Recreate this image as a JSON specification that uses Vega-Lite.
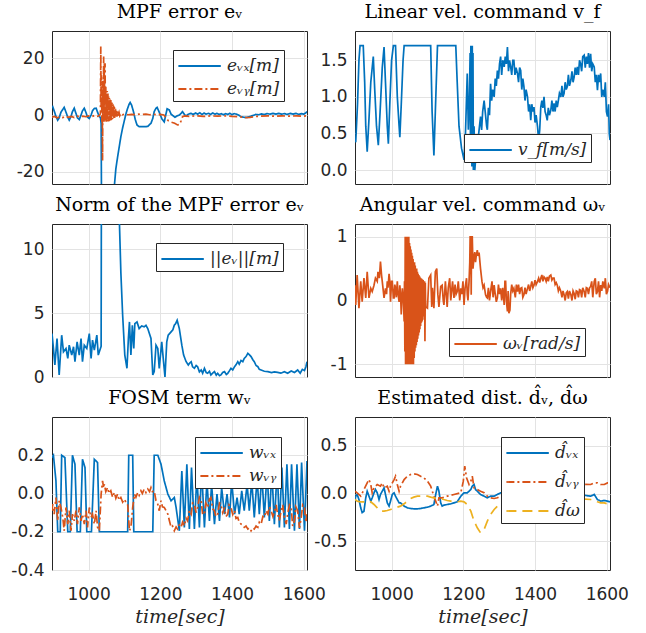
{
"$schema": "https://vega.github.io/schema/vega-lite/v6.json",
"padding": {"left": 10, "top": 2, "right": 5, "bottom": 2},
"background": "white",
"datasets": {
"a1": [{"t":898,"v":2.6},{"t":900,"v":2.9},{"t":904,"v":1.5},{"t":909,"v":-0.5},{"t":914,"v":-1.8},{"t":918,"v":-1.0},{"t":923,"v":1.0},{"t":932,"v":2.7},{"t":937,"v":1.0},{"t":942,"v":-0.8},{"t":946,"v":-1.8},{"t":951,"v":-0.5},{"t":955,"v":1.2},{"t":960,"v":2.4},{"t":965,"v":0.5},{"t":969,"v":-1.0},{"t":974,"v":-1.6},{"t":979,"v":0},{"t":983,"v":1.5},{"t":988,"v":2.4},{"t":993,"v":0.8},{"t":997,"v":-0.8},{"t":1002,"v":-1.2},{"t":1007,"v":0},{"t":1011,"v":1.5},{"t":1016,"v":2.3},{"t":1021,"v":2.4},{"t":1025,"v":1.0},{"t":1030,"v":-0.6},{"t":1033,"v":-0.8},{"t":1035,"v":-3},{"t":1036,"v":-30},{"t":1045,"v":-42},{"t":1055,"v":-45},{"t":1065,"v":-35},{"t":1072,"v":-24.8},{"t":1076,"v":-19},{"t":1081,"v":-14.7},{"t":1086,"v":-10.8},{"t":1090,"v":-7.6},{"t":1095,"v":-4.5},{"t":1100,"v":-1.8},{"t":1105,"v":0.8},{"t":1109,"v":2.4},{"t":1113,"v":3.8},{"t":1116,"v":4.4},{"t":1120,"v":3.5},{"t":1126,"v":0.8},{"t":1130,"v":-1.5},{"t":1135,"v":-3.5},{"t":1141,"v":-4.1},{"t":1150,"v":-4.1},{"t":1160,"v":-4.1},{"t":1165,"v":-4.0},{"t":1174,"v":-2.9},{"t":1179,"v":-1.2},{"t":1183,"v":1.2},{"t":1188,"v":2.4},{"t":1191,"v":2.7},{"t":1197,"v":1.0},{"t":1200,"v":0},{"t":1205,"v":-1.5},{"t":1211,"v":-2.4},{"t":1216,"v":0.5},{"t":1219,"v":2.2},{"t":1225,"v":1.8},{"t":1230,"v":0.3},{"t":1241,"v":-0.8},{"t":1247,"v":-0.3},{"t":1253,"v":0},{"t":1258,"v":0.6},{"t":1262,"v":1.2},{"t":1267,"v":0.2},{"t":1272,"v":-0.35},{"t":1278,"v":0.3},{"t":1286,"v":0.6},{"t":1292,"v":0.2},{"t":1298,"v":0.7},{"t":1304,"v":0.3},{"t":1310,"v":0.8},{"t":1316,"v":0.2},{"t":1322,"v":0.7},{"t":1328,"v":0.3},{"t":1334,"v":0.6},{"t":1340,"v":0.2},{"t":1346,"v":0.7},{"t":1352,"v":0.3},{"t":1358,"v":0.6},{"t":1364,"v":0.2},{"t":1370,"v":0.5},{"t":1376,"v":0.1},{"t":1382,"v":0.5},{"t":1388,"v":0.2},{"t":1394,"v":0.6},{"t":1400,"v":0.1},{"t":1406,"v":0.5},{"t":1412,"v":0.3},{"t":1418,"v":0.0},{"t":1425,"v":-0.6},{"t":1434,"v":-0.8},{"t":1442,"v":-0.8},{"t":1450,"v":-0.5},{"t":1458,"v":-0.2},{"t":1466,"v":0.2},{"t":1474,"v":0.1},{"t":1482,"v":0.4},{"t":1490,"v":0.2},{"t":1498,"v":0.5},{"t":1506,"v":0.3},{"t":1514,"v":0.6},{"t":1522,"v":0.3},{"t":1530,"v":0.6},{"t":1538,"v":0.3},{"t":1546,"v":0.5},{"t":1554,"v":0.2},{"t":1562,"v":0.6},{"t":1570,"v":0.3},{"t":1578,"v":0.6},{"t":1586,"v":0.2},{"t":1594,"v":0.5},{"t":1600,"v":0.3},{"t":1606,"v":0.8},{"t":1609,"v":1.2}],
"a2": [{"t":898,"v":-0.8},{"t":905,"v":-0.5},{"t":912,"v":-1.0},{"t":920,"v":-0.6},{"t":928,"v":-0.9},{"t":936,"v":-0.4},{"t":944,"v":-0.8},{"t":952,"v":-0.5},{"t":960,"v":-0.9},{"t":968,"v":-0.4},{"t":976,"v":-0.7},{"t":984,"v":-0.4},{"t":992,"v":-0.6},{"t":1000,"v":-0.3},{"t":1008,"v":-0.6},{"t":1016,"v":-0.2},{"t":1024,"v":-0.5},{"t":1030,"v":-0.2},{"t":1033,"v":0.5},{"t":1034,"v":24.1},{"t":1035,"v":3},{"t":1036,"v":14},{"t":1037,"v":-2.4},{"t":1038,"v":6},{"t":1039,"v":-16},{"t":1040,"v":12},{"t":1041,"v":-2.4},{"t":1042,"v":20.6},{"t":1043,"v":-2.4},{"t":1044,"v":18.5},{"t":1045,"v":-2.4},{"t":1046,"v":18.2},{"t":1047,"v":-2.4},{"t":1048,"v":10},{"t":1049,"v":-2.4},{"t":1050,"v":7.6},{"t":1051,"v":-2.4},{"t":1052,"v":8.5},{"t":1053,"v":-2.3},{"t":1054,"v":7.6},{"t":1055,"v":-2.3},{"t":1056,"v":6.5},{"t":1057,"v":-2.2},{"t":1058,"v":6},{"t":1059,"v":-2.0},{"t":1060,"v":5.5},{"t":1061,"v":-2.0},{"t":1062,"v":5.3},{"t":1063,"v":-1.8},{"t":1064,"v":4.8},{"t":1065,"v":-1.6},{"t":1066,"v":4.3},{"t":1067,"v":-1.4},{"t":1068,"v":3.8},{"t":1069,"v":-1.2},{"t":1070,"v":3.3},{"t":1071,"v":-1.0},{"t":1072,"v":2.8},{"t":1073,"v":-0.9},{"t":1075,"v":2.2},{"t":1076,"v":-0.8},{"t":1078,"v":1.6},{"t":1079,"v":-0.6},{"t":1081,"v":1.2},{"t":1082,"v":-0.4},{"t":1085,"v":0.9},{"t":1087,"v":-0.2},{"t":1090,"v":0.6},{"t":1094,"v":0.1},{"t":1100,"v":0.3},{"t":1110,"v":0.1},{"t":1120,"v":0.2},{"t":1130,"v":0.1},{"t":1140,"v":0.3},{"t":1150,"v":0.2},{"t":1160,"v":0.3},{"t":1170,"v":0.1},{"t":1180,"v":0.3},{"t":1190,"v":0.1},{"t":1200,"v":0.2},{"t":1210,"v":0.0},{"t":1216,"v":-1.0},{"t":1222,"v":-2.0},{"t":1230,"v":-2.5},{"t":1240,"v":-2.9},{"t":1248,"v":-3.5},{"t":1254,"v":-3.3},{"t":1258,"v":-2.0},{"t":1262,"v":-0.6},{"t":1268,"v":-0.3},{"t":1280,"v":-0.5},{"t":1300,"v":-0.3},{"t":1320,"v":-0.5},{"t":1340,"v":-0.3},{"t":1360,"v":-0.4},{"t":1380,"v":-0.3},{"t":1400,"v":-0.5},{"t":1420,"v":-0.6},{"t":1435,"v":-0.9},{"t":1450,"v":-0.8},{"t":1465,"v":-0.5},{"t":1480,"v":-0.4},{"t":1500,"v":-0.3},{"t":1520,"v":-0.4},{"t":1540,"v":-0.3},{"t":1560,"v":-0.4},{"t":1580,"v":-0.3},{"t":1600,"v":-0.4},{"t":1609,"v":-0.3}],
"b1": [{"t":898,"v":0.41},{"t":900,"v":0.38},{"t":905,"v":0.9},{"t":909,"v":1.5},{"t":912,"v":1.7},{"t":921,"v":1.7},{"t":925,"v":1.2},{"t":928,"v":0.6},{"t":932,"v":0.25},{"t":937,"v":0.7},{"t":942,"v":1.2},{"t":949,"v":1.55},{"t":953,"v":1.1},{"t":958,"v":0.6},{"t":963,"v":0.34},{"t":968,"v":0.8},{"t":974,"v":1.4},{"t":979,"v":1.68},{"t":983,"v":1.2},{"t":988,"v":0.6},{"t":991,"v":0.36},{"t":995,"v":0.9},{"t":1000,"v":1.5},{"t":1005,"v":1.7},{"t":1011,"v":1.7},{"t":1016,"v":1.0},{"t":1021,"v":0.6},{"t":1023,"v":0.45},{"t":1027,"v":0.9},{"t":1032,"v":1.5},{"t":1035,"v":1.7},{"t":1109,"v":1.7},{"t":1113,"v":0.8},{"t":1118,"v":0.2},{"t":1122,"v":0.8},{"t":1128,"v":1.7},{"t":1179,"v":1.7},{"t":1183,"v":1.2},{"t":1188,"v":0.6},{"t":1195,"v":0.3},{"t":1202,"v":0.14},{"t":1206,"v":0.5},{"t":1211,"v":1.32},{"t":1214,"v":0.55},{"t":1217,"v":1.0},{"t":1219,"v":1.6},{"t":1220,"v":0.3},{"t":1221,"v":1.7},{"t":1222,"v":0.1},{"t":1223,"v":1.7},{"t":1224,"v":0.05},{"t":1225,"v":1.7},{"t":1226,"v":0.1},{"t":1227,"v":1.6},{"t":1228,"v":0.0},{"t":1230,"v":0.6},{"t":1232,"v":0.0},{"t":1236,"v":0.25},{"t":1239,"v":0.32},{"t":1244,"v":0.55},{"t":1248,"v":0.73},{"t":1251,"v":0.55},{"t":1254,"v":0.8},{"t":1258,"v":0.95},{"t":1262,"v":0.75},{"t":1265,"v":0.6},{"t":1267,"v":0.55},{"t":1270,"v":0.85},{"t":1273,"v":0.75},{"t":1276,"v":1.18},{"t":1279,"v":0.95},{"t":1282,"v":1.1},{"t":1286,"v":1.0},{"t":1289,"v":1.25},{"t":1292,"v":1.15},{"t":1295,"v":1.36},{"t":1298,"v":1.25},{"t":1301,"v":1.45},{"t":1304,"v":1.55},{"t":1307,"v":1.3},{"t":1310,"v":1.5},{"t":1314,"v":1.41},{"t":1317,"v":1.55},{"t":1320,"v":1.45},{"t":1323,"v":1.68},{"t":1326,"v":1.35},{"t":1329,"v":1.5},{"t":1332,"v":1.41},{"t":1335,"v":1.3},{"t":1338,"v":1.5},{"t":1341,"v":1.5},{"t":1344,"v":1.3},{"t":1347,"v":1.4},{"t":1351,"v":1.32},{"t":1354,"v":1.2},{"t":1357,"v":1.4},{"t":1360,"v":1.36},{"t":1363,"v":1.1},{"t":1366,"v":1.25},{"t":1369,"v":1.14},{"t":1372,"v":0.95},{"t":1375,"v":1.1},{"t":1379,"v":1.0},{"t":1382,"v":0.8},{"t":1385,"v":0.9},{"t":1388,"v":0.68},{"t":1391,"v":0.9},{"t":1394,"v":0.8},{"t":1397,"v":0.86},{"t":1400,"v":0.65},{"t":1403,"v":0.75},{"t":1407,"v":0.59},{"t":1410,"v":0.4},{"t":1413,"v":0.55},{"t":1416,"v":0.86},{"t":1419,"v":0.95},{"t":1422,"v":0.85},{"t":1425,"v":1.0},{"t":1428,"v":0.8},{"t":1431,"v":0.75},{"t":1434,"v":0.68},{"t":1437,"v":0.85},{"t":1440,"v":0.75},{"t":1444,"v":0.82},{"t":1447,"v":0.95},{"t":1450,"v":0.8},{"t":1453,"v":0.91},{"t":1456,"v":0.8},{"t":1459,"v":0.95},{"t":1462,"v":0.86},{"t":1465,"v":0.95},{"t":1468,"v":1.05},{"t":1472,"v":1.0},{"t":1475,"v":1.15},{"t":1478,"v":1.0},{"t":1481,"v":1.05},{"t":1484,"v":1.2},{"t":1487,"v":1.1},{"t":1490,"v":1.14},{"t":1493,"v":1.3},{"t":1496,"v":1.15},{"t":1500,"v":1.23},{"t":1503,"v":1.35},{"t":1506,"v":1.2},{"t":1509,"v":1.27},{"t":1512,"v":1.4},{"t":1515,"v":1.3},{"t":1518,"v":1.41},{"t":1521,"v":1.3},{"t":1524,"v":1.5},{"t":1527,"v":1.45},{"t":1530,"v":1.35},{"t":1533,"v":1.55},{"t":1537,"v":1.57},{"t":1540,"v":1.4},{"t":1543,"v":1.55},{"t":1546,"v":1.45},{"t":1549,"v":1.6},{"t":1552,"v":1.4},{"t":1555,"v":1.59},{"t":1558,"v":1.35},{"t":1561,"v":1.45},{"t":1565,"v":1.41},{"t":1568,"v":1.2},{"t":1571,"v":1.3},{"t":1574,"v":1.09},{"t":1577,"v":1.3},{"t":1580,"v":1.2},{"t":1583,"v":1.32},{"t":1586,"v":1.0},{"t":1589,"v":1.1},{"t":1593,"v":1.0},{"t":1596,"v":1.2},{"t":1599,"v":0.8},{"t":1602,"v":0.73},{"t":1605,"v":0.9},{"t":1607,"v":0.5},{"t":1609,"v":0.41}],
"c1": [{"t":898,"v":3.41},{"t":902,"v":2.24},{"t":906,"v":0.94},{"t":912,"v":3.02},{"t":918,"v":0.16},{"t":925,"v":3.28},{"t":930,"v":1.98},{"t":937,"v":2.24},{"t":942,"v":1.46},{"t":946,"v":2.5},{"t":953,"v":1.72},{"t":958,"v":2.37},{"t":962,"v":1.2},{"t":968,"v":2.76},{"t":974,"v":1.72},{"t":979,"v":3.02},{"t":983,"v":1.2},{"t":988,"v":2.5},{"t":995,"v":2.24},{"t":1002,"v":3.41},{"t":1007,"v":1.46},{"t":1011,"v":2.89},{"t":1016,"v":2.11},{"t":1023,"v":3.28},{"t":1027,"v":1.72},{"t":1033,"v":2.24},{"t":1035,"v":2.4},{"t":1036,"v":20},{"t":1050,"v":40},{"t":1070,"v":25},{"t":1080,"v":16},{"t":1086,"v":12.1},{"t":1090,"v":8.2},{"t":1095,"v":4.84},{"t":1101,"v":1.72},{"t":1107,"v":0.68},{"t":1111,"v":3.02},{"t":1114,"v":4.32},{"t":1118,"v":1.72},{"t":1122,"v":4.06},{"t":1126,"v":2.24},{"t":1129,"v":4.19},{"t":1135,"v":4.32},{"t":1141,"v":3.8},{"t":1148,"v":4.0},{"t":1155,"v":3.93},{"t":1160,"v":4.05},{"t":1165,"v":3.8},{"t":1174,"v":3.02},{"t":1179,"v":0.16},{"t":1183,"v":0.42},{"t":1188,"v":2.5},{"t":1193,"v":2.24},{"t":1197,"v":0.68},{"t":1204,"v":2.76},{"t":1209,"v":1.2},{"t":1213,"v":0},{"t":1218,"v":2.76},{"t":1222,"v":3.28},{"t":1230,"v":3.54},{"t":1235,"v":3.7},{"t":1239,"v":4.06},{"t":1243,"v":4.2},{"t":1247,"v":4.45},{"t":1253,"v":3.8},{"t":1260,"v":2.5},{"t":1265,"v":1.72},{"t":1272,"v":1.2},{"t":1278,"v":0.94},{"t":1282,"v":1.1},{"t":1286,"v":1.2},{"t":1290,"v":0.8},{"t":1295,"v":0.68},{"t":1300,"v":0.9},{"t":1304,"v":0.81},{"t":1309,"v":0.4},{"t":1314,"v":0.55},{"t":1318,"v":0.3},{"t":1323,"v":0.68},{"t":1328,"v":0.35},{"t":1332,"v":0.29},{"t":1337,"v":0.45},{"t":1341,"v":0.16},{"t":1346,"v":0.3},{"t":1351,"v":0.42},{"t":1356,"v":0.15},{"t":1360,"v":0.29},{"t":1365,"v":0.1},{"t":1369,"v":0.16},{"t":1374,"v":0.35},{"t":1379,"v":0.42},{"t":1384,"v":0.2},{"t":1388,"v":0.29},{"t":1393,"v":0.5},{"t":1397,"v":0.68},{"t":1402,"v":0.55},{"t":1407,"v":0.81},{"t":1411,"v":0.95},{"t":1416,"v":1.2},{"t":1420,"v":1.0},{"t":1425,"v":1.3},{"t":1430,"v":1.2},{"t":1434,"v":1.46},{"t":1439,"v":1.6},{"t":1444,"v":1.85},{"t":1448,"v":1.75},{"t":1453,"v":1.6},{"t":1458,"v":1.35},{"t":1462,"v":1.2},{"t":1467,"v":0.9},{"t":1472,"v":0.81},{"t":1476,"v":0.6},{"t":1481,"v":0.55},{"t":1490,"v":0.45},{"t":1500,"v":0.42},{"t":1510,"v":0.35},{"t":1518,"v":0.4},{"t":1527,"v":0.36},{"t":1536,"v":0.3},{"t":1546,"v":0.42},{"t":1555,"v":0.3},{"t":1565,"v":0.47},{"t":1574,"v":0.35},{"t":1583,"v":0.55},{"t":1590,"v":0.3},{"t":1596,"v":0.6},{"t":1602,"v":0.5},{"t":1606,"v":0.8},{"t":1609,"v":1.2}],
"d1": [{"t":898,"v":0.24},{"t":900,"v":-0.07},{"t":904,"v":0.4},{"t":909,"v":-0.12},{"t":914,"v":0.3},{"t":918,"v":-0.02},{"t":923,"v":0.35},{"t":928,"v":0.04},{"t":932,"v":0.45},{"t":937,"v":0.04},{"t":942,"v":0.19},{"t":946,"v":0.14},{"t":951,"v":0.24},{"t":955,"v":0.35},{"t":960,"v":0.3},{"t":962,"v":0.45},{"t":966,"v":0.35},{"t":969,"v":0.61},{"t":972,"v":0.4},{"t":974,"v":0.3},{"t":979,"v":0.04},{"t":983,"v":0.19},{"t":986,"v":0.1},{"t":988,"v":0.3},{"t":990,"v":0.2},{"t":993,"v":0.42},{"t":995,"v":0.3},{"t":997,"v":-0.02},{"t":1000,"v":0.3},{"t":1002,"v":0.3},{"t":1005,"v":0.04},{"t":1007,"v":0.04},{"t":1009,"v":0.25},{"t":1011,"v":0.19},{"t":1013,"v":0.05},{"t":1016,"v":0.3},{"t":1018,"v":0.1},{"t":1021,"v":-0.02},{"t":1023,"v":0.24},{"t":1025,"v":0.1},{"t":1027,"v":-0.22},{"t":1030,"v":0.19},{"t":1033,"v":0.0},{"t":1035,"v":-0.33},{"t":1036,"v":0.3},{"t":1037,"v":-0.8},{"t":1038,"v":1.0},{"t":1039,"v":-1.0},{"t":1040,"v":1.0},{"t":1041,"v":-1.0},{"t":1042,"v":1.0},{"t":1043,"v":-1.0},{"t":1044,"v":1.0},{"t":1045,"v":-1.0},{"t":1046,"v":1.0},{"t":1047,"v":-1.0},{"t":1048,"v":1.0},{"t":1049,"v":-1.0},{"t":1050,"v":0.9},{"t":1051,"v":-1.0},{"t":1052,"v":0.85},{"t":1053,"v":-1.0},{"t":1054,"v":0.8},{"t":1055,"v":-1.0},{"t":1056,"v":0.75},{"t":1057,"v":-1.0},{"t":1058,"v":0.7},{"t":1059,"v":-1.0},{"t":1060,"v":0.65},{"t":1061,"v":-1.0},{"t":1062,"v":0.6},{"t":1063,"v":-0.9},{"t":1064,"v":0.6},{"t":1065,"v":-0.8},{"t":1066,"v":0.55},{"t":1067,"v":-0.74},{"t":1068,"v":0.5},{"t":1069,"v":-0.7},{"t":1070,"v":0.5},{"t":1071,"v":-0.65},{"t":1072,"v":0.45},{"t":1073,"v":-0.6},{"t":1074,"v":0.42},{"t":1075,"v":-0.55},{"t":1076,"v":0.4},{"t":1077,"v":-0.5},{"t":1078,"v":0.38},{"t":1079,"v":-0.45},{"t":1080,"v":0.36},{"t":1081,"v":-0.4},{"t":1082,"v":0.35},{"t":1083,"v":-0.35},{"t":1084,"v":0.34},{"t":1085,"v":-0.33},{"t":1086,"v":0.33},{"t":1087,"v":-0.3},{"t":1088,"v":0.32},{"t":1089,"v":-0.25},{"t":1090,"v":0.3},{"t":1091,"v":-0.2},{"t":1092,"v":0.3},{"t":1093,"v":-0.64},{"t":1094,"v":0.28},{"t":1095,"v":-0.1},{"t":1100,"v":-0.12},{"t":1104,"v":0.35},{"t":1109,"v":0.4},{"t":1112,"v":-0.1},{"t":1114,"v":0.2},{"t":1118,"v":-0.12},{"t":1122,"v":0.45},{"t":1126,"v":0.5},{"t":1129,"v":0.1},{"t":1132,"v":-0.1},{"t":1137,"v":0.22},{"t":1141,"v":0.24},{"t":1144,"v":0.0},{"t":1146,"v":-0.07},{"t":1150,"v":0.3},{"t":1155,"v":-0.1},{"t":1158,"v":0.2},{"t":1162,"v":0.35},{"t":1165,"v":0.0},{"t":1170,"v":0.3},{"t":1174,"v":0.04},{"t":1177,"v":0.25},{"t":1180,"v":0.1},{"t":1183,"v":0.14},{"t":1186,"v":0.3},{"t":1190,"v":0.0},{"t":1193,"v":0.19},{"t":1196,"v":0.1},{"t":1199,"v":0.3},{"t":1202,"v":-0.07},{"t":1205,"v":0.2},{"t":1209,"v":0.35},{"t":1211,"v":0.1},{"t":1213,"v":0.0},{"t":1216,"v":0.3},{"t":1218,"v":0.6},{"t":1219,"v":1.0},{"t":1221,"v":1.0},{"t":1222,"v":0.09},{"t":1223,"v":1.0},{"t":1225,"v":1.0},{"t":1227,"v":0.5},{"t":1230,"v":0.7},{"t":1232,"v":0.76},{"t":1234,"v":0.6},{"t":1236,"v":0.7},{"t":1239,"v":0.79},{"t":1241,"v":0.7},{"t":1244,"v":0.75},{"t":1248,"v":0.5},{"t":1252,"v":0.3},{"t":1255,"v":0.2},{"t":1258,"v":0.24},{"t":1262,"v":0.09},{"t":1265,"v":0.05},{"t":1267,"v":0.04},{"t":1270,"v":0.2},{"t":1273,"v":0.0},{"t":1276,"v":0.14},{"t":1280,"v":0.3},{"t":1283,"v":0.05},{"t":1286,"v":0.24},{"t":1289,"v":0.1},{"t":1292,"v":-0.02},{"t":1295,"v":0.04},{"t":1298,"v":0.25},{"t":1301,"v":0.1},{"t":1304,"v":0.19},{"t":1307,"v":0.0},{"t":1310,"v":0.2},{"t":1314,"v":-0.07},{"t":1316,"v":0.3},{"t":1318,"v":0.3},{"t":1320,"v":0.0},{"t":1323,"v":-0.17},{"t":1325,"v":0.15},{"t":1327,"v":-0.2},{"t":1330,"v":-0.15},{"t":1332,"v":0.1},{"t":1335,"v":0.25},{"t":1338,"v":0.15},{"t":1341,"v":0.19},{"t":1345,"v":0.05},{"t":1348,"v":0.25},{"t":1351,"v":0.14},{"t":1354,"v":0.25},{"t":1357,"v":0.1},{"t":1360,"v":0.19},{"t":1363,"v":0.2},{"t":1366,"v":0.05},{"t":1369,"v":0.09},{"t":1372,"v":0.2},{"t":1375,"v":0.1},{"t":1379,"v":0.19},{"t":1382,"v":0.25},{"t":1385,"v":0.15},{"t":1388,"v":0.22},{"t":1391,"v":0.3},{"t":1394,"v":0.2},{"t":1397,"v":0.24},{"t":1400,"v":0.32},{"t":1403,"v":0.25},{"t":1407,"v":0.3},{"t":1410,"v":0.35},{"t":1413,"v":0.28},{"t":1416,"v":0.35},{"t":1419,"v":0.4},{"t":1422,"v":0.3},{"t":1425,"v":0.37},{"t":1428,"v":0.35},{"t":1431,"v":0.3},{"t":1434,"v":0.37},{"t":1437,"v":0.3},{"t":1440,"v":0.38},{"t":1444,"v":0.4},{"t":1447,"v":0.32},{"t":1450,"v":0.35},{"t":1453,"v":0.35},{"t":1456,"v":0.25},{"t":1459,"v":0.28},{"t":1462,"v":0.24},{"t":1465,"v":0.15},{"t":1468,"v":0.2},{"t":1472,"v":0.14},{"t":1475,"v":0.05},{"t":1478,"v":0.15},{"t":1481,"v":0.09},{"t":1484,"v":0.0},{"t":1487,"v":0.12},{"t":1490,"v":0.14},{"t":1493,"v":0.03},{"t":1496,"v":0.15},{"t":1500,"v":0.09},{"t":1503,"v":0.0},{"t":1506,"v":0.15},{"t":1509,"v":0.11},{"t":1512,"v":0.02},{"t":1515,"v":0.15},{"t":1518,"v":0.14},{"t":1521,"v":0.05},{"t":1524,"v":0.17},{"t":1527,"v":0.16},{"t":1530,"v":0.05},{"t":1533,"v":0.2},{"t":1537,"v":0.14},{"t":1540,"v":0.05},{"t":1543,"v":0.2},{"t":1546,"v":0.19},{"t":1549,"v":0.1},{"t":1552,"v":0.2},{"t":1555,"v":0.22},{"t":1558,"v":0.3},{"t":1561,"v":0.05},{"t":1565,"v":0.3},{"t":1568,"v":0.35},{"t":1571,"v":0.1},{"t":1574,"v":0.14},{"t":1577,"v":0.3},{"t":1580,"v":0.05},{"t":1583,"v":0.24},{"t":1586,"v":0.15},{"t":1589,"v":0.3},{"t":1593,"v":0.19},{"t":1596,"v":0.35},{"t":1599,"v":0.1},{"t":1602,"v":0.14},{"t":1605,"v":0.25},{"t":1609,"v":0.2}],
"e1": [{"t":898,"v":0.188},{"t":902,"v":0.2},{"t":909,"v":0.066},{"t":914,"v":-0.2},{"t":921,"v":-0.2},{"t":925,"v":0.2},{"t":934,"v":0.188},{"t":942,"v":-0.2},{"t":949,"v":-0.2},{"t":955,"v":0.2},{"t":962,"v":0.153},{"t":968,"v":-0.2},{"t":977,"v":-0.2},{"t":983,"v":0.179},{"t":990,"v":0.136},{"t":995,"v":-0.2},{"t":1008,"v":-0.2},{"t":1016,"v":0.179},{"t":1025,"v":0.162},{"t":1030,"v":-0.2},{"t":1109,"v":-0.2},{"t":1112,"v":0.2},{"t":1123,"v":0.2},{"t":1126,"v":-0.2},{"t":1179,"v":-0.2},{"t":1183,"v":0.2},{"t":1193,"v":0.2},{"t":1202,"v":0.153},{"t":1211,"v":0.066},{"t":1221,"v":-0.003},{"t":1230,"v":-0.038},{"t":1239,"v":-0.021},{"t":1244,"v":-0.073},{"t":1253,"v":-0.195},{"t":1260,"v":0.118},{"t":1267,"v":-0.177},{"t":1274,"v":0.153},{"t":1281,"v":-0.186},{"t":1287,"v":0.136},{"t":1295,"v":-0.186},{"t":1302,"v":0.101},{"t":1309,"v":-0.177},{"t":1315,"v":0.136},{"t":1323,"v":-0.177},{"t":1330,"v":0.066},{"t":1337,"v":-0.143},{"t":1343,"v":0.049},{"t":1351,"v":-0.16},{"t":1358,"v":-0.003},{"t":1365,"v":-0.143},{"t":1371,"v":0.031},{"t":1379,"v":-0.108},{"t":1386,"v":-0.003},{"t":1393,"v":-0.125},{"t":1399,"v":0.066},{"t":1407,"v":-0.108},{"t":1414,"v":-0.021},{"t":1420,"v":-0.108},{"t":1427,"v":0.014},{"t":1434,"v":-0.09},{"t":1442,"v":0.049},{"t":1448,"v":-0.09},{"t":1455,"v":0.066},{"t":1462,"v":-0.125},{"t":1470,"v":0.083},{"t":1476,"v":-0.108},{"t":1483,"v":0.101},{"t":1490,"v":-0.125},{"t":1498,"v":0.118},{"t":1504,"v":-0.143},{"t":1511,"v":0.118},{"t":1518,"v":-0.16},{"t":1526,"v":0.136},{"t":1532,"v":-0.177},{"t":1539,"v":0.136},{"t":1546,"v":-0.177},{"t":1553,"v":0.153},{"t":1560,"v":-0.186},{"t":1566,"v":0.153},{"t":1574,"v":-0.195},{"t":1581,"v":0.153},{"t":1588,"v":-0.186},{"t":1594,"v":0.162},{"t":1602,"v":-0.195},{"t":1609,"v":0.17}],
"e2": [{"t":898,"v":-0.09},{"t":900,"v":-0.056},{"t":904,"v":-0.108},{"t":909,"v":-0.021},{"t":914,"v":-0.143},{"t":918,"v":-0.038},{"t":923,"v":-0.073},{"t":928,"v":-0.125},{"t":932,"v":-0.195},{"t":937,"v":-0.073},{"t":942,"v":-0.16},{"t":946,"v":-0.09},{"t":951,"v":-0.195},{"t":955,"v":-0.108},{"t":960,"v":-0.143},{"t":965,"v":-0.09},{"t":969,"v":-0.16},{"t":974,"v":-0.073},{"t":979,"v":-0.143},{"t":983,"v":-0.108},{"t":988,"v":-0.16},{"t":993,"v":-0.09},{"t":997,"v":-0.177},{"t":1002,"v":-0.073},{"t":1007,"v":-0.125},{"t":1011,"v":-0.108},{"t":1016,"v":-0.16},{"t":1021,"v":-0.09},{"t":1025,"v":-0.177},{"t":1030,"v":-0.195},{"t":1035,"v":-0.003},{"t":1039,"v":0.066},{"t":1042,"v":0.03},{"t":1044,"v":0.049},{"t":1048,"v":0.01},{"t":1053,"v":0.031},{"t":1057,"v":0.0},{"t":1062,"v":0.014},{"t":1067,"v":-0.02},{"t":1072,"v":0.005},{"t":1076,"v":-0.025},{"t":1081,"v":-0.003},{"t":1085,"v":-0.035},{"t":1090,"v":-0.021},{"t":1095,"v":-0.045},{"t":1100,"v":-0.03},{"t":1105,"v":-0.05},{"t":1109,"v":-0.056},{"t":1114,"v":-0.195},{"t":1118,"v":-0.177},{"t":1123,"v":-0.073},{"t":1128,"v":-0.003},{"t":1132,"v":-0.02},{"t":1137,"v":0.005},{"t":1141,"v":-0.01},{"t":1146,"v":0.014},{"t":1150,"v":0.0},{"t":1155,"v":0.023},{"t":1160,"v":0.005},{"t":1165,"v":0.023},{"t":1170,"v":0.01},{"t":1174,"v":0.031},{"t":1178,"v":0.01},{"t":1183,"v":0.014},{"t":1188,"v":-0.038},{"t":1193,"v":-0.056},{"t":1197,"v":-0.09},{"t":1202,"v":-0.038},{"t":1206,"v":-0.07},{"t":1211,"v":-0.073},{"t":1216,"v":-0.09},{"t":1221,"v":-0.108},{"t":1225,"v":-0.14},{"t":1230,"v":-0.177},{"t":1234,"v":-0.17},{"t":1239,"v":-0.195},{"t":1244,"v":-0.175},{"t":1248,"v":-0.186},{"t":1253,"v":-0.165},{"t":1258,"v":-0.177},{"t":1262,"v":-0.15},{"t":1267,"v":-0.169},{"t":1272,"v":-0.13},{"t":1276,"v":-0.143},{"t":1281,"v":-0.09},{"t":1286,"v":-0.108},{"t":1290,"v":-0.05},{"t":1295,"v":-0.056},{"t":1300,"v":-0.1},{"t":1304,"v":-0.073},{"t":1309,"v":-0.02},{"t":1314,"v":-0.038},{"t":1318,"v":-0.11},{"t":1323,"v":-0.108},{"t":1327,"v":-0.05},{"t":1332,"v":-0.073},{"t":1337,"v":-0.03},{"t":1341,"v":-0.021},{"t":1346,"v":-0.08},{"t":1351,"v":-0.09},{"t":1355,"v":-0.12},{"t":1360,"v":-0.108},{"t":1365,"v":-0.05},{"t":1369,"v":-0.056},{"t":1374,"v":-0.1},{"t":1379,"v":-0.073},{"t":1383,"v":-0.12},{"t":1388,"v":-0.108},{"t":1392,"v":-0.06},{"t":1397,"v":-0.073},{"t":1402,"v":-0.11},{"t":1407,"v":-0.09},{"t":1411,"v":-0.13},{"t":1416,"v":-0.125},{"t":1420,"v":-0.15},{"t":1425,"v":-0.16},{"t":1430,"v":-0.165},{"t":1434,"v":-0.177},{"t":1439,"v":-0.17},{"t":1444,"v":-0.186},{"t":1448,"v":-0.18},{"t":1453,"v":-0.195},{"t":1458,"v":-0.18},{"t":1462,"v":-0.186},{"t":1467,"v":-0.17},{"t":1472,"v":-0.177},{"t":1476,"v":-0.15},{"t":1481,"v":-0.16},{"t":1486,"v":-0.12},{"t":1490,"v":-0.125},{"t":1495,"v":-0.09},{"t":1500,"v":-0.108},{"t":1504,"v":-0.07},{"t":1509,"v":-0.09},{"t":1514,"v":-0.12},{"t":1518,"v":-0.099},{"t":1523,"v":-0.06},{"t":1527,"v":-0.108},{"t":1532,"v":-0.14},{"t":1537,"v":-0.09},{"t":1541,"v":-0.06},{"t":1546,"v":-0.125},{"t":1551,"v":-0.16},{"t":1555,"v":-0.108},{"t":1560,"v":-0.06},{"t":1565,"v":-0.073},{"t":1569,"v":-0.17},{"t":1574,"v":-0.143},{"t":1578,"v":-0.07},{"t":1583,"v":-0.09},{"t":1588,"v":-0.18},{"t":1593,"v":-0.125},{"t":1597,"v":-0.06},{"t":1602,"v":-0.073},{"t":1606,"v":-0.15},{"t":1609,"v":-0.108}],
"f1": [{"t":898,"v":-0.08},{"t":900,"v":-0.028},{"t":904,"v":-0.01},{"t":909,"v":-0.063},{"t":914,"v":-0.15},{"t":918,"v":-0.2},{"t":923,"v":-0.185},{"t":928,"v":-0.045},{"t":932,"v":0.024},{"t":937,"v":-0.028},{"t":942,"v":-0.08},{"t":946,"v":-0.045},{"t":951,"v":0.007},{"t":955,"v":0.042},{"t":960,"v":0.007},{"t":965,"v":-0.063},{"t":969,"v":-0.01},{"t":974,"v":0.024},{"t":979,"v":0.059},{"t":983,"v":-0.01},{"t":988,"v":-0.098},{"t":993,"v":-0.132},{"t":997,"v":-0.08},{"t":1002,"v":-0.01},{"t":1007,"v":0.007},{"t":1011,"v":-0.028},{"t":1016,"v":-0.063},{"t":1021,"v":-0.098},{"t":1025,"v":-0.098},{"t":1030,"v":-0.115},{"t":1035,"v":-0.132},{"t":1044,"v":-0.15},{"t":1053,"v":-0.157},{"t":1062,"v":-0.16},{"t":1072,"v":-0.16},{"t":1081,"v":-0.157},{"t":1090,"v":-0.15},{"t":1100,"v":-0.143},{"t":1109,"v":-0.132},{"t":1118,"v":-0.115},{"t":1123,"v":-0.01},{"t":1128,"v":0.077},{"t":1132,"v":0.024},{"t":1137,"v":-0.098},{"t":1141,"v":-0.132},{"t":1146,"v":-0.122},{"t":1155,"v":-0.115},{"t":1165,"v":-0.108},{"t":1174,"v":-0.098},{"t":1183,"v":-0.087},{"t":1193,"v":-0.028},{"t":1202,"v":0.007},{"t":1211,"v":0.007},{"t":1221,"v":0.042},{"t":1225,"v":0.077},{"t":1230,"v":0.094},{"t":1234,"v":0.042},{"t":1239,"v":0.024},{"t":1248,"v":-0.01},{"t":1258,"v":-0.028},{"t":1267,"v":-0.045},{"t":1276,"v":-0.028},{"t":1286,"v":-0.028},{"t":1295,"v":-0.01},{"t":1304,"v":0.007},{"t":1330,"v":0.0},{"t":1360,"v":-0.02},{"t":1400,"v":-0.03},{"t":1450,"v":-0.02},{"t":1500,"v":-0.03},{"t":1540,"v":-0.02},{"t":1555,"v":-0.028},{"t":1565,"v":-0.01},{"t":1574,"v":-0.063},{"t":1583,"v":-0.08},{"t":1593,"v":-0.073},{"t":1602,"v":-0.08},{"t":1609,"v":-0.087}],
"f2": [{"t":898,"v":0.024},{"t":904,"v":0.007},{"t":914,"v":-0.028},{"t":923,"v":0.042},{"t":932,"v":0.111},{"t":937,"v":0.146},{"t":942,"v":0.094},{"t":946,"v":0.007},{"t":951,"v":0.059},{"t":960,"v":0.094},{"t":969,"v":0.077},{"t":974,"v":0.111},{"t":979,"v":0.059},{"t":988,"v":0.077},{"t":993,"v":0.024},{"t":997,"v":0.077},{"t":1007,"v":0.146},{"t":1011,"v":0.181},{"t":1016,"v":0.094},{"t":1021,"v":0.024},{"t":1025,"v":0.077},{"t":1030,"v":0.111},{"t":1035,"v":0.146},{"t":1044,"v":0.181},{"t":1053,"v":0.199},{"t":1062,"v":0.206},{"t":1072,"v":0.199},{"t":1081,"v":0.181},{"t":1090,"v":0.164},{"t":1100,"v":0.129},{"t":1109,"v":0.077},{"t":1118,"v":-0.028},{"t":1123,"v":-0.08},{"t":1128,"v":-0.132},{"t":1132,"v":-0.045},{"t":1141,"v":-0.045},{"t":1155,"v":-0.028},{"t":1174,"v":-0.01},{"t":1193,"v":0.007},{"t":1200,"v":0.129},{"t":1204,"v":0.286},{"t":1209,"v":0.164},{"t":1216,"v":0.094},{"t":1221,"v":0.129},{"t":1225,"v":0.181},{"t":1230,"v":0.059},{"t":1239,"v":0.042},{"t":1248,"v":0.024},{"t":1258,"v":0.007},{"t":1267,"v":-0.028},{"t":1276,"v":-0.045},{"t":1286,"v":-0.052},{"t":1295,"v":-0.045},{"t":1304,"v":-0.03},{"t":1350,"v":0.0},{"t":1400,"v":0.05},{"t":1450,"v":0.08},{"t":1500,"v":0.1},{"t":1555,"v":0.094},{"t":1565,"v":0.111},{"t":1574,"v":0.111},{"t":1583,"v":0.094},{"t":1593,"v":0.094},{"t":1602,"v":0.111},{"t":1609,"v":0.111}],
"f3": [{"t":898,"v":-0.063},{"t":904,"v":-0.08},{"t":914,"v":-0.087},{"t":923,"v":-0.087},{"t":932,"v":-0.073},{"t":942,"v":-0.087},{"t":951,"v":-0.115},{"t":960,"v":-0.15},{"t":969,"v":-0.185},{"t":979,"v":-0.185},{"t":988,"v":-0.178},{"t":997,"v":-0.167},{"t":1007,"v":-0.15},{"t":1016,"v":-0.143},{"t":1025,"v":-0.132},{"t":1035,"v":-0.108},{"t":1044,"v":-0.08},{"t":1053,"v":-0.052},{"t":1062,"v":-0.038},{"t":1072,"v":-0.028},{"t":1081,"v":-0.028},{"t":1090,"v":-0.028},{"t":1100,"v":-0.028},{"t":1109,"v":-0.038},{"t":1118,"v":-0.045},{"t":1128,"v":-0.052},{"t":1137,"v":-0.052},{"t":1146,"v":-0.063},{"t":1155,"v":-0.073},{"t":1165,"v":-0.08},{"t":1174,"v":-0.087},{"t":1183,"v":-0.087},{"t":1193,"v":-0.08},{"t":1202,"v":-0.087},{"t":1211,"v":-0.115},{"t":1221,"v":-0.185},{"t":1230,"v":-0.289},{"t":1239,"v":-0.359},{"t":1248,"v":-0.411},{"t":1258,"v":-0.376},{"t":1267,"v":-0.289},{"t":1276,"v":-0.22},{"t":1286,"v":-0.167},{"t":1295,"v":-0.132},{"t":1304,"v":-0.098},{"t":1350,"v":-0.06},{"t":1400,"v":-0.05},{"t":1450,"v":-0.05},{"t":1500,"v":-0.05},{"t":1555,"v":-0.063},{"t":1565,"v":-0.073},{"t":1574,"v":-0.087},{"t":1583,"v":-0.098},{"t":1593,"v":-0.098},{"t":1602,"v":-0.108},{"t":1609,"v":-0.108}]
},
"columns": 2,
"spacing": {"row": 40, "column": 48},
"bounds": "flush",
"resolve": {"scale": {"color": "independent", "strokeDash": "independent"}, "legend": {"color": "independent", "strokeDash": "independent"}},
"concat": [
{"width": 255, "height": 153, "title": "MPF error eᵥ",
 "encoding": {
  "x": {"field": "t", "type": "quantitative", "scale": {"domain": [898, 1609], "nice": false, "zero": false}, "axis": {"values": [1000, 1200, 1400, 1600], "labels": false, "title": null}},
  "y": {"field": "v", "type": "quantitative", "scale": {"domain": [-24.3, 29.6], "nice": false, "zero": false}, "axis": {"values": [-20, 0, 20], "title": null}}},
 "layer": [
  {"data": {"name": "a1"}, "mark": {"type": "line", "clip": true, "strokeWidth": 1.7},
   "encoding": {"color": {"datum": "eᵥₓ[m]", "type": "nominal", "scale": {"domain": ["eᵥₓ[m]", "eᵥᵧ[m]"], "range": ["#0072BD", "#D95319"]}, "legend": {"title": null, "orient": "none", "legendX": 121, "legendY": 19}},
    "strokeDash": {"datum": "eᵥₓ[m]", "type": "nominal", "scale": {"domain": ["eᵥₓ[m]", "eᵥᵧ[m]"], "range": [[1, 0], [8, 3, 2, 3]]}, "legend": {"title": null, "orient": "none", "legendX": 121, "legendY": 19}}}},
  {"data": {"name": "a2"}, "mark": {"type": "line", "clip": true, "strokeWidth": 1.7},
   "encoding": {"color": {"datum": "eᵥᵧ[m]", "type": "nominal"}, "strokeDash": {"datum": "eᵥᵧ[m]", "type": "nominal"}}}
 ]},
{"width": 255, "height": 153, "title": "Linear vel. command v_f",
 "encoding": {
  "x": {"field": "t", "type": "quantitative", "scale": {"domain": [898, 1609], "nice": false, "zero": false}, "axis": {"values": [1000, 1200, 1400, 1600], "labels": false, "title": null}},
  "y": {"field": "v", "type": "quantitative", "scale": {"domain": [-0.19, 1.9], "nice": false, "zero": false}, "axis": {"values": [0, 0.5, 1, 1.5], "title": null}}},
 "layer": [
  {"data": {"name": "b1"}, "mark": {"type": "line", "clip": true, "strokeWidth": 1.7},
   "encoding": {"color": {"datum": "v_f[m/s]", "type": "nominal", "scale": {"domain": ["v_f[m/s]"], "range": ["#0072BD"]}, "legend": {"title": null, "orient": "none", "legendX": 109, "legendY": 103}}}}
 ]},
{"width": 255, "height": 153, "title": "Norm of the MPF error eᵥ",
 "encoding": {
  "x": {"field": "t", "type": "quantitative", "scale": {"domain": [898, 1609], "nice": false, "zero": false}, "axis": {"values": [1000, 1200, 1400, 1600], "labels": false, "title": null}},
  "y": {"field": "v", "type": "quantitative", "scale": {"domain": [0, 12], "nice": false, "zero": false}, "axis": {"values": [0, 5, 10], "title": null}}},
 "layer": [
  {"data": {"name": "c1"}, "mark": {"type": "line", "clip": true, "strokeWidth": 1.7},
   "encoding": {"color": {"datum": "||eᵥ||[m]", "type": "nominal", "scale": {"domain": ["||eᵥ||[m]"], "range": ["#0072BD"]}, "legend": {"title": null, "orient": "none", "legendX": 104, "legendY": 19}}}}
 ]},
{"width": 255, "height": 153, "title": "Angular vel. command ωᵥ",
 "encoding": {
  "x": {"field": "t", "type": "quantitative", "scale": {"domain": [898, 1609], "nice": false, "zero": false}, "axis": {"values": [1000, 1200, 1400, 1600], "labels": false, "title": null}},
  "y": {"field": "v", "type": "quantitative", "scale": {"domain": [-1.2, 1.2], "nice": false, "zero": false}, "axis": {"values": [-1, 0, 1], "title": null}}},
 "layer": [
  {"data": {"name": "d1"}, "mark": {"type": "line", "clip": true, "strokeWidth": 1.7},
   "encoding": {"color": {"datum": "ωᵥ[rad/s]", "type": "nominal", "scale": {"domain": ["ωᵥ[rad/s]"], "range": ["#D95319"]}, "legend": {"title": null, "orient": "none", "legendX": 94, "legendY": 104}}}}
 ]},
{"width": 255, "height": 153, "title": "FOSM term wᵥ",
 "encoding": {
  "x": {"field": "t", "type": "quantitative", "scale": {"domain": [898, 1609], "nice": false, "zero": false}, "axis": {"values": [1000, 1200, 1400, 1600], "format": "d", "title": "time[sec]"}},
  "y": {"field": "v", "type": "quantitative", "scale": {"domain": [-0.4, 0.4], "nice": false, "zero": false}, "axis": {"values": [-0.4, -0.2, 0, 0.2], "title": null}}},
 "layer": [
  {"data": {"name": "e1"}, "mark": {"type": "line", "clip": true, "strokeWidth": 1.7},
   "encoding": {"color": {"datum": "wᵥₓ", "type": "nominal", "scale": {"domain": ["wᵥₓ", "wᵥᵧ"], "range": ["#0072BD", "#D95319"]}, "legend": {"title": null, "orient": "none", "legendX": 143, "legendY": 20}},
    "strokeDash": {"datum": "wᵥₓ", "type": "nominal", "scale": {"domain": ["wᵥₓ", "wᵥᵧ"], "range": [[1, 0], [8, 3, 2, 3]]}, "legend": {"title": null, "orient": "none", "legendX": 143, "legendY": 20}}}},
  {"data": {"name": "e2"}, "mark": {"type": "line", "clip": true, "strokeWidth": 1.7},
   "encoding": {"color": {"datum": "wᵥᵧ", "type": "nominal"}, "strokeDash": {"datum": "wᵥᵧ", "type": "nominal"}}}
 ]},
{"width": 255, "height": 153, "title": "Estimated dist. d̂ᵥ, d̂ω",
 "encoding": {
  "x": {"field": "t", "type": "quantitative", "scale": {"domain": [898, 1609], "nice": false, "zero": false}, "axis": {"values": [1000, 1200, 1400, 1600], "format": "d", "title": "time[sec]"}},
  "y": {"field": "v", "type": "quantitative", "scale": {"domain": [-0.8, 0.8], "nice": false, "zero": false}, "axis": {"values": [-0.5, 0, 0.5], "title": null}}},
 "layer": [
  {"data": {"name": "f1"}, "mark": {"type": "line", "clip": true, "strokeWidth": 1.7},
   "encoding": {"color": {"datum": "d̂ᵥₓ", "type": "nominal", "scale": {"domain": ["d̂ᵥₓ", "d̂ᵥᵧ", "d̂ω"], "range": ["#0072BD", "#D95319", "#EDB120"]}, "legend": {"title": null, "orient": "none", "legendX": 146, "legendY": 20, "rowPadding": 9}},
    "strokeDash": {"datum": "d̂ᵥₓ", "type": "nominal", "scale": {"domain": ["d̂ᵥₓ", "d̂ᵥᵧ", "d̂ω"], "range": [[1, 0], [8, 3, 2, 3], [10, 6]]}, "legend": {"title": null, "orient": "none", "legendX": 146, "legendY": 20, "rowPadding": 9}}}},
  {"data": {"name": "f2"}, "mark": {"type": "line", "clip": true, "strokeWidth": 1.7},
   "encoding": {"color": {"datum": "d̂ᵥᵧ", "type": "nominal"}, "strokeDash": {"datum": "d̂ᵥᵧ", "type": "nominal"}}},
  {"data": {"name": "f3"}, "mark": {"type": "line", "clip": true, "strokeWidth": 1.7},
   "encoding": {"color": {"datum": "d̂ω", "type": "nominal"}, "strokeDash": {"datum": "d̂ω", "type": "nominal"}}}
 ]}
],
"config": {
 "locale": {"number": {"decimal": ".", "thousands": "", "grouping": [3], "currency": ["", ""], "minus": "-"}},
 "view": {"stroke": "#262626", "strokeWidth": 1},
 "axis": {"grid": true, "gridColor": "#e3e3e3", "gridWidth": 1, "domain": false, "ticks": false, "labelFont": "DejaVu Sans", "labelFontSize": 17, "labelColor": "#262626", "labelPadding": 8, "titleFont": "DejaVu Serif", "titleFontStyle": "italic", "titleFontWeight": "normal", "titleFontSize": 19, "titleColor": "#262626", "titlePadding": 5},
 "axisX": {"labelPadding": 16},
 "title": {"font": "DejaVu Serif", "fontSize": 19, "fontWeight": "normal", "color": "#000000", "baseline": "alphabetic", "offset": 9},
 "legend": {"fillColor": "white", "strokeColor": "#262626", "padding": 4, "symbolType": "M-1,0H3", "symbolSize": 450, "symbolStrokeWidth": 1.8, "labelFont": "DejaVu Serif", "labelFontSize": 17, "labelFontStyle": "italic", "labelColor": "#262626", "rowPadding": 3, "labelOffset": 26, "cornerRadius": 0}
}
}
